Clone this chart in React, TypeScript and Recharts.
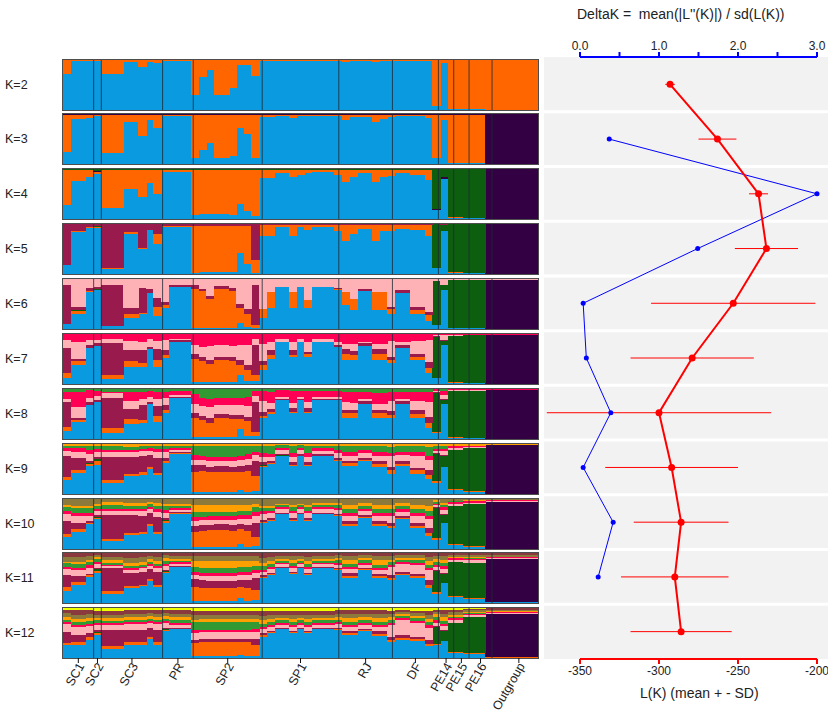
import React from "react";
import {
  BarChart,
  Bar,
  XAxis,
  YAxis,
  ReferenceLine,
  ComposedChart,
  Line,
  ErrorBar,
  CartesianGrid
} from "recharts";

const FONT = "'Liberation Sans', Arial, sans-serif";

// populations, left to right, and number of individuals in each
const popNames = ["SC1", "SC2", "SC3", "PR", "SP2", "SP1", "RJ", "DF", "PE14", "PE15", "PE16", "Outgroup"];
const popSizes = [4, 1, 8, 4, 9, 10, 7, 6, 2, 2, 3, 7];

// cluster order = stacking order (bottom to top)
const clusterKeys = ["blue", "orange", "purple", "dkgreen", "maroon", "pink", "red", "green", "amber", "olive", "brown", "yellow"];
const clusterColors = ["#0a9ae0", "#ff6600", "#330044", "#0e5e10", "#991a4d", "#ffb2b6", "#ff0055", "#339933", "#ffa000", "#8c7a3c", "#8a3a3e", "#eeff00"];

// membership (%) per individual, one string per cluster; the top cluster of each K is the rest
const q2 = [
  "73 98 98 98 | 99 | 72 72 72 97 97 87 96 95 | 99 99 99 99 | 30 66 81 30 30 44 91 91 68 | 99 99 98 99 99 99 99 98 98 99 | 99 97 99 99 99 96 98 | 99 99 99 98 99 99 | 9 95 | 3 3 | 2 2 2 | 0 0 0 0 0 0 0"
];
const q3 = [
  "25 91 91 93 | 97 | 22 22 22 85 85 56 89 72 | 97 97 97 97 | 13 28 43 13 13 17 73 60 13 | 94 94 96 97 92 96 96 96 96 96 | 96 89 94 94 94 85 91 | 95 96 96 96 96 92 | 12 88 | 3 3 | 2 2 2 | 1 1 1 1 1 1 1",
  "73 7 7 5 | 1 | 76 76 76 13 13 42 9 26 | 2 2 2 2 | 85 70 55 85 85 81 25 38 85 | 5 5 3 2 7 3 3 3 3 3 | 3 10 5 5 5 14 8 | 4 3 3 3 3 7 | 86 10 | 96 96 | 97 97 97 | 0 0 0 0 0 0 0"
];
const q4 = [
  "28 76 76 85 | 91 | 22 22 22 60 60 44 72 50 | 95 95 95 95 | 8 10 10 10 10 8 30 17 7 | 82 82 93 93 84 89 93 94 94 94 | 89 75 84 92 92 75 84 | 87 92 92 89 89 79 | 18 81 | 3 3 | 2 2 2 | 1 1 1 1 1 1 1",
  "70 22 22 13 | 3 | 76 76 76 38 38 54 26 48 | 3 3 3 3 | 90 88 88 88 88 90 68 81 91 | 17 17 6 6 15 10 6 5 5 5 | 10 24 15 7 7 24 15 | 12 7 7 10 10 20 | 0 0 | 1 1 | 1 1 1 | 0 0 0 0 0 0 0",
  "0 0 0 0 | 2 | 0 0 0 0 0 0 0 0 | 0 0 0 0 | 0 0 0 0 0 0 0 0 0 | 0 0 0 0 0 0 0 0 0 0 | 0 0 0 0 0 0 0 | 0 0 0 0 0 0 | 2 3 | 0 0 | 0 0 0 | 99 99 99 99 99 99 99"
];
const q5 = [
  "18 84 84 93 | 93 | 11 11 11 81 81 51 89 61 | 94 94 94 94 | 3 5 5 5 5 5 43 20 3 | 77 77 94 94 76 94 88 95 95 95 | 87 67 81 90 90 67 87 | 86 91 91 89 89 77 | 12 87 | 3 3 | 2 2 2 | 1 1 1 1 1 1 1",
  "1 3 3 1 | 1 | 1 1 1 3 3 1 0 20 | 2 2 2 2 | 93 91 91 91 91 91 53 76 25 | 22 22 5 5 23 5 11 4 4 4 | 12 32 18 9 9 32 12 | 13 8 8 10 10 22 | 1 0 | 1 1 | 1 1 1 | 0 0 0 0 0 0 0",
  "0 0 0 0 | 0 | 0 0 0 0 0 0 0 0 | 0 0 0 0 | 0 0 0 0 0 0 0 0 0 | 0 0 0 0 0 0 0 0 0 0 | 0 0 0 0 0 0 0 | 0 0 0 0 0 0 | 0 0 | 0 0 | 0 0 0 | 99 99 99 99 99 99 99",
  "0 0 0 0 | 3 | 0 0 0 0 0 0 0 0 | 0 0 0 0 | 0 0 0 0 0 0 0 0 0 | 0 0 0 0 0 0 0 0 0 0 | 0 0 0 0 0 0 0 | 0 0 0 0 0 0 | 87 11 | 96 96 | 97 97 97 | 0 0 0 0 0 0 0"
];
const q6 = [
  "10 30 30 75 | 78 | 7 7 7 23 23 30 73 27 | 42 85 85 85 | 3 2 2 2 2 2 12 5 2 | 22 42 85 85 42 85 42 85 85 85 | 78 48 38 76 76 38 38 | 30 73 73 30 30 17 | 9 78 | 3 3 | 2 2 2 | 1 1 1 1 1 1 1",
  "0 6 6 2 | 0 | 0 0 0 7 7 2 0 18 | 6 0 0 0 | 78 74 58 78 78 74 30 26 7 | 18 33 0 0 33 0 17 0 0 0 | 3 26 22 0 0 36 37 | 10 0 0 9 9 11 | 0 0 | 0 0 | 0 0 0 | 0 0 0 0 0 0 0",
  "0 0 0 0 | 0 | 0 0 0 0 0 0 0 0 | 0 0 0 0 | 0 0 0 0 0 0 0 0 0 | 0 0 0 0 0 0 0 0 0 0 | 0 0 0 0 0 0 0 | 0 0 0 0 0 0 | 0 0 | 0 0 | 0 0 0 | 98 98 98 98 98 98 98",
  "0 2 2 0 | 3 | 0 0 0 0 0 0 0 0 | 0 0 0 0 | 0 0 0 0 0 0 0 0 0 | 0 0 0 0 0 0 0 0 0 0 | 0 0 0 0 0 0 0 | 0 0 0 0 0 0 | 87 10 | 95 95 | 97 97 97 | 0 0 0 0 0 0 0",
  "79 7 7 5 | 3 | 82 82 82 13 13 50 8 17 | 7 3 3 3 | 7 5 7 7 7 7 8 10 80 | 0 0 0 0 0 0 0 0 0 0 | 2 0 0 5 5 0 0 | 5 5 5 6 6 7 | 0 0 | 0 0 | 0 0 0 | 0 0 0 0 0 0 0"
];
const q7 = [
  "13 38 38 73 | 77 | 11 11 11 35 35 35 71 35 | 53 85 85 85 | 5 4 4 4 4 4 18 6 6 | 28 50 85 85 55 85 55 85 85 85 | 75 48 48 77 77 48 48 | 42 73 73 48 48 22 | 13 78 | 3 3 | 2 2 2 | 1 1 1 1 1 1 1",
  "9 8 8 0 | 0 | 8 8 8 11 11 7 0 13 | 5 0 0 0 | 46 42 36 44 44 42 20 22 12 | 11 8 0 0 4 0 5 0 0 0 | 0 13 11 0 0 13 13 | 6 0 0 6 6 11 | 0 0 | 1 1 | 0 0 0 | 0 0 0 0 0 0 0",
  "0 0 0 0 | 0 | 0 0 0 0 0 0 0 0 | 0 0 0 0 | 0 0 0 0 0 0 0 0 0 | 0 0 0 0 0 0 0 0 0 0 | 0 0 0 0 0 0 0 | 0 0 0 0 0 0 | 0 0 | 0 0 | 0 0 0 | 97 97 97 97 97 97 97",
  "0 0 0 0 | 0 | 0 0 0 0 0 0 0 0 | 0 0 0 0 | 0 0 0 0 0 0 0 0 0 | 0 0 0 0 0 0 0 0 0 0 | 0 0 0 0 0 0 0 | 0 0 0 0 0 0 | 81 8 | 93 93 | 96 96 96 | 0 0 0 0 0 0 0",
  "50 5 5 5 | 6 | 64 64 64 22 22 26 4 23 | 10 3 3 3 | 10 9 9 7 7 9 10 10 60 | 7 10 0 0 9 0 5 0 0 0 | 3 9 7 5 5 9 9 | 7 5 5 7 7 11 | 2 2 | 0 0 | 0 0 0 | 0 0 0 0 0 0 0",
  "17 33 33 10 | 5 | 8 8 8 19 19 17 15 15 | 20 3 3 3 | 17 20 28 23 23 22 30 40 13 | 35 17 5 5 17 5 20 5 5 5 | 7 11 15 3 3 11 11 | 31 7 7 26 26 44 | 2 10 | 1 1 | 1 1 1 | 1 1 1 1 1 1 1"
];
const q8 = [
  "16 34 34 68 | 75 | 13 13 13 31 31 33 70 35 | 53 82 82 82 | 4 4 4 4 4 4 20 7 6 | 42 51 79 79 52 79 52 78 78 78 | 78 42 42 71 71 42 42 | 42 71 71 42 42 22 | 13 70 | 3 3 | 2 2 2 | 1 1 1 1 1 1 1",
  "9 5 5 0 | 0 | 9 9 9 9 9 5 0 12 | 6 0 0 0 | 39 35 29 39 39 37 20 30 9 | 5 3 0 0 3 0 3 0 0 0 | 0 10 10 0 0 10 10 | 7 0 0 8 8 11 | 2 0 | 1 1 | 0 0 0 | 0 0 0 0 0 0 0",
  "0 0 0 0 | 0 | 0 0 0 0 0 0 0 0 | 0 0 0 0 | 0 0 0 0 0 0 0 0 0 | 0 0 0 0 0 0 0 0 0 0 | 0 0 0 0 0 0 0 | 0 0 0 0 0 0 | 0 0 | 0 0 | 0 0 0 | 97 97 97 97 97 97 97",
  "0 0 0 0 | 0 | 0 0 0 0 0 0 0 0 | 0 0 0 0 | 0 0 0 0 0 0 0 0 0 | 0 0 0 0 0 0 0 0 0 0 | 0 0 0 0 0 0 0 | 0 0 0 0 0 0 | 78 8 | 92 92 | 94 94 94 | 0 0 0 0 0 0 0",
  "50 3 3 7 | 4 | 60 60 60 21 21 30 4 20 | 10 3 3 3 | 10 8 10 8 8 8 8 8 60 | 7 6 2 2 7 2 7 2 2 2 | 2 7 7 6 6 7 7 | 8 5 5 8 8 12 | 1 2 | 0 0 | 0 0 0 | 0 0 0 0 0 0 0",
  "6 22 22 7 | 8 | 10 10 10 15 15 12 10 13 | 14 4 4 4 | 17 20 22 18 18 20 20 22 12 | 22 12 4 4 10 4 12 4 4 4 | 4 15 13 3 3 12 12 | 20 4 4 18 18 30 | 3 8 | 2 2 | 2 2 2 | 1 1 1 1 1 1 1",
  "13 30 30 16 | 9 | 3 3 3 18 18 15 12 15 | 12 8 8 8 | 20 15 15 13 14 14 15 18 10 | 20 22 13 13 25 12 23 12 12 12 | 13 20 22 14 14 22 22 | 18 15 15 19 19 20 | 3 8 | 2 2 | 2 2 2 | 1 1 1 1 1 1 1"
];
const q9 = [
  "28 42 42 57 | 59 | 22 22 22 36 36 39 51 38 | 63 81 81 81 | 5 5 4 4 4 4 8 5 6 | 54 60 77 77 57 77 57 77 77 77 | 67 57 57 67 67 55 55 | 40 57 57 41 41 31 | 22 54 | 8 8 | 5 5 5 | 1 1 1 1 1 1 1",
  "7 7 7 3 | 8 | 7 7 7 5 5 5 3 5 | 4 2 2 2 | 40 41 40 41 41 40 37 42 30 | 2 2 0 0 2 0 2 0 0 0 | 2 5 5 2 2 5 5 | 8 4 4 7 7 7 | 4 0 | 3 3 | 2 2 2 | 0 0 0 0 0 0 0",
  "0 0 0 0 | 0 | 0 0 0 0 0 0 0 0 | 0 0 0 0 | 0 0 0 0 0 0 0 0 0 | 0 0 0 0 0 0 0 0 0 0 | 0 0 0 0 0 0 0 | 0 0 0 0 0 0 | 0 0 | 0 0 | 0 0 0 | 97 97 97 97 97 97 97",
  "0 0 0 2 | 3 | 0 0 0 0 0 0 0 0 | 0 0 0 0 | 0 0 0 0 0 0 0 0 0 | 2 0 2 2 0 0 0 0 0 0 | 0 0 0 0 0 0 0 | 0 0 0 0 0 0 | 55 22 | 77 77 | 85 85 85 | 0 0 0 0 0 0 0",
  "41 24 24 5 | 4 | 45 45 45 33 33 32 25 30 | 6 2 2 2 | 13 12 11 12 12 11 12 12 30 | 7 5 2 2 5 3 5 3 3 3 | 4 5 5 4 4 6 6 | 6 5 5 5 5 10 | 2 2 | 0 0 | 0 0 0 | 0 0 0 0 0 0 0",
  "10 12 12 14 | 10 | 10 10 10 10 10 10 8 12 | 12 4 4 4 | 10 10 11 10 10 11 11 12 12 | 10 8 8 8 10 8 10 7 7 7 | 10 10 10 10 10 10 10 | 22 12 12 23 23 20 | 4 8 | 4 4 | 3 3 3 | 1 1 1 1 1 1 1",
  "6 7 7 7 | 6 | 5 5 5 5 5 5 5 6 | 6 3 3 3 | 10 8 8 7 7 8 8 10 6 | 7 6 4 4 8 5 8 5 5 5 | 5 7 7 5 5 8 8 | 7 7 7 8 8 8 | 3 5 | 4 4 | 2 2 2 | 0 0 0 0 0 0 0",
  "4 5 5 8 | 6 | 7 7 7 6 6 6 5 6 | 6 5 5 5 | 18 20 22 22 22 22 20 15 12 | 14 15 5 5 14 5 14 5 5 5 | 8 12 12 8 8 12 12 | 12 11 11 12 12 19 | 6 5 | 1 1 | 0 0 0 | 0 0 0 0 0 0 0"
];
const q10 = [
  "24 34 34 50 | 60 | 17 17 17 29 29 30 47 30 | 53 71 71 71 | 5 4 4 4 4 4 10 5 7 | 53 57 71 71 57 71 57 71 71 71 | 66 47 47 63 63 47 47 | 42 60 60 42 42 27 | 18 53 | 8 8 | 5 5 5 | 1 1 1 1 1 1 1",
  "6 6 6 3 | 3 | 4 4 4 4 4 4 3 5 | 3 1 1 1 | 30 33 34 35 35 33 30 32 18 | 2 2 0 0 2 0 2 0 0 0 | 2 4 4 2 2 4 4 | 4 3 3 4 4 5 | 4 0 | 2 2 | 2 2 2 | 0 0 0 0 0 0 0",
  "0 0 0 0 | 0 | 0 0 0 0 0 0 0 0 | 0 0 0 0 | 0 0 0 0 0 0 0 0 0 | 0 0 0 0 0 0 0 0 0 0 | 0 0 0 0 0 0 0 | 0 0 0 0 0 0 | 0 0 | 0 0 | 0 0 0 | 94 94 94 94 94 94 94",
  "0 0 0 0 | 2 | 0 0 0 0 0 0 0 0 | 2 0 0 0 | 0 0 0 0 0 0 0 0 0 | 0 0 0 0 0 0 0 0 0 0 | 0 0 0 0 0 0 0 | 0 0 0 0 0 0 | 60 16 | 76 76 | 83 83 83 | 0 0 0 0 0 0 0",
  "27 13 13 3 | 3 | 48 48 48 35 35 33 22 30 | 5 2 2 2 | 12 11 11 11 11 11 11 12 28 | 4 3 2 2 3 2 3 2 2 2 | 3 5 5 3 3 5 5 | 6 3 3 6 6 10 | 2 2 | 0 0 | 0 0 0 | 0 0 0 0 0 0 0",
  "14 13 13 10 | 8 | 8 8 8 8 8 9 8 10 | 10 5 5 5 | 10 10 10 9 9 10 10 12 14 | 12 10 7 7 10 7 10 7 7 7 | 8 10 10 8 8 10 10 | 14 9 9 14 14 18 | 4 8 | 4 4 | 3 3 3 | 2 2 2 2 2 2 2",
  "5 6 6 6 | 5 | 4 4 4 4 4 4 4 5 | 5 3 3 3 | 8 7 7 7 7 8 7 8 7 | 6 5 4 4 5 4 5 4 4 4 | 4 6 6 5 5 6 6 | 6 5 5 6 6 7 | 3 5 | 4 4 | 3 3 3 | 1 1 1 1 1 1 1",
  "8 10 10 10 | 6 | 8 8 8 7 7 7 6 7 | 8 5 5 5 | 10 10 9 9 9 9 9 8 10 | 6 6 4 4 7 4 7 5 5 5 | 5 8 8 6 6 9 9 | 8 7 7 9 9 10 | 4 4 | 2 2 | 1 1 1 | 0 0 0 0 0 0 0",
  "4 5 5 5 | 4 | 5 5 5 5 5 5 4 5 | 5 4 4 4 | 13 13 13 13 13 13 12 12 6 | 4 4 3 3 4 3 4 3 3 3 | 4 8 8 5 5 8 8 | 8 5 5 8 8 10 | 3 4 | 1 1 | 1 1 1 | 1 1 1 1 1 1 1"
];
const q11 = [
  "24 37 37 53 | 60 | 19 19 19 31 31 34 45 32 | 60 72 72 72 | 5 4 4 4 4 4 11 5 6 | 50 56 70 70 58 70 56 70 70 70 | 66 51 51 66 66 50 50 | 47 56 56 50 50 31 | 19 40 | 12 12 | 8 8 8 | 2 2 2 2 2 2 2",
  "8 6 6 3 | 5 | 5 5 5 3 3 3 3 5 | 2 0 0 0 | 28 27 26 27 27 27 22 26 20 | 3 2 0 0 2 0 2 0 0 0 | 2 4 4 2 2 4 4 | 4 3 3 4 4 5 | 3 0 | 2 2 | 2 2 2 | 0 0 0 0 0 0 0",
  "0 0 0 0 | 0 | 0 0 0 0 0 0 0 0 | 0 0 0 0 | 0 0 0 0 0 0 0 0 0 | 0 0 0 0 0 0 0 0 0 0 | 0 0 0 0 0 0 0 | 0 0 0 0 0 0 | 0 0 | 0 0 | 0 0 0 | 86 86 86 86 86 86 86",
  "0 0 0 0 | 3 | 0 0 0 0 0 0 0 0 | 2 0 0 0 | 0 0 0 0 0 0 0 0 0 | 0 0 0 0 0 0 0 0 0 0 | 0 0 0 0 0 0 0 | 0 0 0 0 0 0 | 42 19 | 68 68 | 71 71 71 | 0 0 0 0 0 0 0",
  "24 12 12 3 | 2 | 47 47 47 27 27 26 20 25 | 3 2 2 2 | 15 15 15 14 14 14 14 15 25 | 3 3 2 2 3 2 3 2 2 2 | 3 5 5 3 3 5 5 | 6 4 4 5 5 10 | 2 2 | 0 0 | 0 0 0 | 0 0 0 0 0 0 0",
  "13 12 12 12 | 8 | 3 3 3 6 6 7 7 8 | 8 5 5 5 | 8 9 9 9 9 9 9 10 10 | 6 7 6 6 7 6 7 6 6 6 | 6 8 8 6 6 8 8 | 16 15 15 18 18 20 | 7 8 | 5 5 | 5 5 5 | 3 3 3 3 3 3 3",
  "4 4 4 5 | 5 | 3 3 3 3 3 3 3 4 | 4 3 3 3 | 6 6 6 6 6 6 6 6 6 | 5 4 3 3 4 3 4 3 3 3 | 4 4 4 4 4 4 4 | 4 4 4 4 4 5 | 4 5 | 3 3 | 3 3 3 | 2 2 2 2 2 2 2",
  "7 7 7 7 | 5 | 3 3 3 4 4 4 4 5 | 5 3 3 3 | 10 10 11 11 11 11 11 10 8 | 7 6 4 4 6 4 6 4 4 4 | 5 6 6 5 5 6 6 | 5 5 5 5 5 6 | 6 6 | 1 1 | 1 1 1 | 0 0 0 0 0 0 0",
  "3 5 5 4 | 4 | 6 6 6 6 6 6 6 6 | 6 4 4 4 | 12 13 13 13 13 13 12 12 10 | 6 6 4 4 6 4 6 4 4 4 | 5 8 8 5 5 9 9 | 5 4 4 5 5 7 | 6 7 | 2 2 | 2 2 2 | 0 0 0 0 0 0 0",
  "10 10 10 8 | 5 | 6 6 6 10 10 9 6 8 | 6 6 6 6 | 10 10 10 10 10 10 9 10 9 | 10 8 6 6 8 6 8 6 6 6 | 5 8 8 5 5 8 8 | 7 5 5 5 5 8 | 6 7 | 4 4 | 5 5 5 | 3 3 3 3 3 3 3"
];
const q12 = [
  "26 26 26 37 | 46 | 19 19 19 26 26 26 39 26 | 54 58 58 58 | 5 5 5 5 5 5 6 5 5 | 43 50 59 59 50 59 50 59 59 59 | 56 46 46 54 54 45 45 | 32 37 37 34 34 24 | 27 35 | 11 11 | 8 8 8 | 1 1 1 1 1 1 1",
  "5 7 7 5 | 5 | 5 5 5 6 6 6 4 6 | 2 0 0 0 | 25 27 27 27 27 27 26 27 22 | 3 2 0 0 2 0 2 0 0 0 | 2 4 4 2 2 4 4 | 4 4 4 4 4 4 | 2 0 | 2 2 | 2 2 2 | 1 1 1 1 1 1 1",
  "0 0 0 0 | 0 | 0 0 0 0 0 0 0 0 | 0 0 0 0 | 0 0 0 0 0 0 0 0 0 | 0 0 0 0 0 0 0 0 0 0 | 0 0 0 0 0 0 0 | 0 0 0 0 0 0 | 0 0 | 0 0 | 0 0 0 | 86 86 86 86 86 86 86",
  "0 0 0 0 | 2 | 0 0 0 0 0 0 0 0 | 2 0 0 0 | 0 0 0 0 0 0 0 0 0 | 0 0 0 0 0 0 0 0 0 0 | 0 0 0 0 0 0 0 | 0 0 0 0 0 0 | 34 19 | 58 58 | 72 72 72 | 0 0 0 0 0 0 0",
  "21 13 13 8 | 3 | 32 32 32 24 24 24 17 24 | 3 2 2 2 | 7 6 6 6 6 6 6 6 12 | 4 3 2 2 3 2 3 2 2 2 | 3 5 5 3 3 5 5 | 6 5 5 5 5 8 | 2 2 | 0 0 | 0 0 0 | 0 0 0 0 0 0 0",
  "16 16 16 14 | 10 | 10 10 10 12 12 12 10 12 | 9 7 7 7 | 14 14 14 14 14 14 14 14 14 | 8 7 6 6 7 6 7 6 6 6 | 7 8 8 8 8 9 9 | 24 30 30 28 28 25 | 6 8 | 6 6 | 4 4 4 | 2 2 2 2 2 2 2",
  "4 5 5 5 | 5 | 4 4 4 4 4 4 4 4 | 4 4 4 4 | 5 5 5 5 5 5 5 5 5 | 5 4 4 4 4 4 4 4 4 4 | 4 4 4 4 4 4 4 | 5 4 4 4 4 5 | 5 5 | 3 3 | 3 3 3 | 2 2 2 2 2 2 2",
  "5 6 6 6 | 5 | 4 4 4 5 5 5 5 5 | 5 5 5 5 | 16 16 16 16 16 16 16 16 14 | 6 6 5 5 6 5 6 5 5 5 | 5 6 6 5 5 6 6 | 5 4 4 5 5 6 | 6 6 | 3 3 | 2 2 2 | 1 1 1 1 1 1 1",
  "5 6 6 6 | 5 | 6 6 6 6 6 6 6 6 | 6 6 6 6 | 5 5 5 5 5 5 5 5 6 | 7 6 5 5 6 5 6 5 5 5 | 6 8 8 6 6 8 8 | 6 4 4 5 5 7 | 6 7 | 4 4 | 2 2 2 | 2 2 2 2 2 2 2",
  "8 8 8 7 | 6 | 7 7 7 6 6 6 6 6 | 6 7 7 7 | 9 9 9 9 9 9 9 9 9 | 8 8 6 6 8 6 8 6 6 6 | 6 7 7 7 7 7 7 | 6 4 4 5 5 7 | 5 7 | 5 5 | 3 3 3 | 2 2 2 2 2 2 2",
  "7 9 9 8 | 8 | 8 8 8 7 7 7 6 7 | 6 7 7 7 | 8 8 8 8 8 8 8 8 8 | 10 9 8 8 9 8 9 8 8 8 | 7 8 8 7 7 8 8 | 7 4 4 5 5 8 | 4 7 | 5 5 | 2 2 2 | 3 3 3 3 3 3 3"
];
const qByK = [q2, q3, q4, q5, q6, q7, q8, q9, q10, q11, q12];

// right panel: L(K) mean, sd and DeltaK
const kValues = [2, 3, 4, 5, 6, 7, 8, 9, 10, 11, 12];
const lkMean = [-293, -263, -237, -232, -253, -279, -300, -292, -286, -290, -286];
const lkSd = [3, 12, 6, 20, 52, 39, 71, 42, 30, 34, 32];
const deltaK = [null, 0.37, 3.0, 1.49, 0.04, 0.08, 0.39, 0.04, 0.42, 0.23, null];
const lTicks = [-350, -300, -250, -200];
const dTicks = [0, 0.5, 1, 1.5, 2, 2.5, 3];
const kBounds = [2.5, 3.5, 4.5, 5.5, 6.5, 7.5, 8.5, 9.5, 10.5, 11.5];

const nInd = popSizes.reduce((a, b) => a + b, 0);
const popStarts = popSizes.map((_, i) => popSizes.slice(0, i).reduce((a, b) => a + b, 0));
const popBounds = popStarts.slice(1);
const popCenters = popStarts.map((s, i) => s + popSizes[i] / 2);

const parse = (s: string) => s.split(/[\s|]+/).filter(Boolean).map(Number);

function buildRows(q: string[]) {
  const cols = q.map(parse);
  const rows: any[] = [];
  for (let j = 0; j < nInd; j++) {
    const row: any = { id: j };
    let sum = 0;
    cols.forEach((c, ci) => {
      row[clusterKeys[ci]] = c[j];
      sum += c[j];
    });
    row[clusterKeys[cols.length]] = Math.max(0, 100 - sum);
    rows.push(row);
  }
  return rows;
}

const PLOT_W = 475;
const AXIS_H = 56;

const PopTick = (props: any) => {
  const { x, y, payload } = props;
  const idx = popCenters.indexOf(payload.value);
  return (
    <text
      x={0}
      y={0}
      transform={`translate(${x + 3},${y - 1}) rotate(-60)`}
      textAnchor="end"
      dominantBaseline="central"
      fontSize={12.5}
      fontFamily={FONT}
      fill="#222"
    >
      {popNames[idx]}
    </text>
  );
};

// bars widened a little so neighbours overlap instead of leaving hairline gaps
const QBar = (props: any) => {
  const { x, y, width, height, fill } = props;
  if (!height || height <= 0) return null;
  return <rect x={x} y={y} width={width + 0.7} height={height} fill={fill} shapeRendering="crispEdges" />;
};

function StructureRow({ k, q, top, showAxis }: any) {
  const data = buildRows(q);
  const keys = clusterKeys.slice(0, k);
  return (
    <>
      <div
        style={{
          position: "absolute",
          left: 5,
          top: top + 18,
          fontSize: 12.5,
          lineHeight: "16px",
          color: "#222"
        }}
      >
        K={k}
      </div>
      <div
        style={{
          position: "absolute",
          left: 62,
          top,
          width: PLOT_W,
          height: 50,
          border: "1px solid #4d4d4d"
        }}
      >
        <BarChart
          width={PLOT_W}
          height={showAxis ? 50 + AXIS_H : 50}
          data={data}
          margin={{ top: 0, right: 0, bottom: 0, left: 0 }}
          barCategoryGap={0}
          barGap={0}
          barSize={7.53}
        >
          <XAxis dataKey="id" hide height={0} />
          <XAxis
            xAxisId="pop"
            type="number"
            domain={[0, nInd]}
            allowDataOverflow
            ticks={popCenters}
            interval={0}
            hide={!showAxis}
            height={AXIS_H}
            axisLine={false}
            tickSize={5}
            tickLine={{ stroke: "#111" }}
            tick={<PopTick />}
          />
          <YAxis hide width={0} domain={[0, 100]} allowDataOverflow />
          {keys.map((key, i) => (
            <Bar
              key={key}
              dataKey={key}
              stackId="q"
              fill={clusterColors[i]}
              shape={<QBar />}
              isAnimationActive={false}
            />
          ))}
          {popBounds.map((b) => (
            <ReferenceLine
              key={b}
              xAxisId="pop"
              x={b}
              stroke="#1d2b36"
              strokeOpacity={0.8}
              strokeWidth={1}
            />
          ))}
        </BarChart>
      </div>
    </>
  );
}

export default function App() {
  const lkData = kValues.map((k, i) => ({
    k,
    L: lkMean[i],
    sd: lkSd[i],
    D: deltaK[i]
  }));

  return (
    <div
      style={{
        position: "relative",
        width: 831,
        height: 715,
        background: "#fff",
        fontFamily: FONT,
        overflow: "hidden"
      }}
    >
      <style>{`body{margin:0}`}</style>

      {qByK.map((q, i) => (
        <StructureRow
          key={i}
          k={i + 2}
          q={q}
          top={Math.round(58.6 + 54.87 * i)}
          showAxis={i === qByK.length - 1}
        />
      ))}

      <div
        style={{
          position: "absolute",
          left: 577,
          top: 6,
          fontSize: 14,
          lineHeight: "16px",
          whiteSpace: "pre",
          color: "#222"
        }}
      >
        {"DeltaK =  mean(|L''(K)|) / sd(L(K))"}
      </div>

      <div style={{ position: "absolute", left: 544, top: 0 }}>
        <ComposedChart
          layout="vertical"
          width={284}
          height={715}
          data={lkData}
          margin={{ top: 0, right: 0, bottom: 0, left: 0 }}
        >
          <CartesianGrid
            xAxisId="L"
            fill="#f2f2f2"
            vertical={false}
            horizontalValues={kBounds}
            stroke="#ffffff"
            strokeWidth={3}
          />
          <XAxis
            xAxisId="D"
            type="number"
            orientation="top"
            height={57}
            domain={[-0.4557, 3.1392]}
            allowDataOverflow
            ticks={dTicks}
            interval={0}
            tickFormatter={(v: number) => (Number.isInteger(v) ? v.toFixed(1) : "")}
            axisLine={false}
            tickSize={5}
            tickLine={{ stroke: "#0000ff", strokeWidth: 2 }}
            tick={{ fontSize: 12, fill: "#222", fontFamily: FONT }}
          />
          <XAxis
            xAxisId="L"
            type="number"
            orientation="bottom"
            height={56}
            domain={[-372.78, -193.04]}
            allowDataOverflow
            ticks={lTicks}
            interval={0}
            axisLine={false}
            tickSize={5}
            tickLine={{ stroke: "#ff0000", strokeWidth: 2 }}
            tick={{ fontSize: 12, fill: "#222", fontFamily: FONT }}
          />
          <YAxis type="number" dataKey="k" domain={[1.5, 12.5]} ticks={kBounds} hide />
          <ReferenceLine
            xAxisId="D"
            segment={[{ x: 0, y: 1.5 }, { x: 3, y: 1.5 }]}
            stroke="#0000ff"
            strokeWidth={2}
            ifOverflow="visible"
          />
          <ReferenceLine
            xAxisId="L"
            segment={[{ x: -350, y: 12.5 }, { x: -200, y: 12.5 }]}
            stroke="#ff0000"
            strokeWidth={2}
            ifOverflow="visible"
          />
          <Line
            xAxisId="D"
            dataKey="D"
            stroke="#0000ff"
            strokeWidth={1}
            dot={{ r: 2.5, fill: "#0000ff", stroke: "none" }}
            isAnimationActive={false}
          />
          <Line
            xAxisId="L"
            dataKey="L"
            stroke="#ff0000"
            strokeWidth={2}
            dot={{ r: 3.5, fill: "#ff0000", stroke: "none" }}
            isAnimationActive={false}
          >
            <ErrorBar dataKey="sd" direction="x" width={0} stroke="#ff0000" strokeWidth={1} />
          </Line>
        </ComposedChart>
      </div>

      <div
        style={{
          position: "absolute",
          left: 640,
          top: 685,
          fontSize: 14,
          lineHeight: "16px",
          whiteSpace: "pre",
          color: "#222"
        }}
      >
        {"L(K) (mean + - SD)"}
      </div>
    </div>
  );
}
